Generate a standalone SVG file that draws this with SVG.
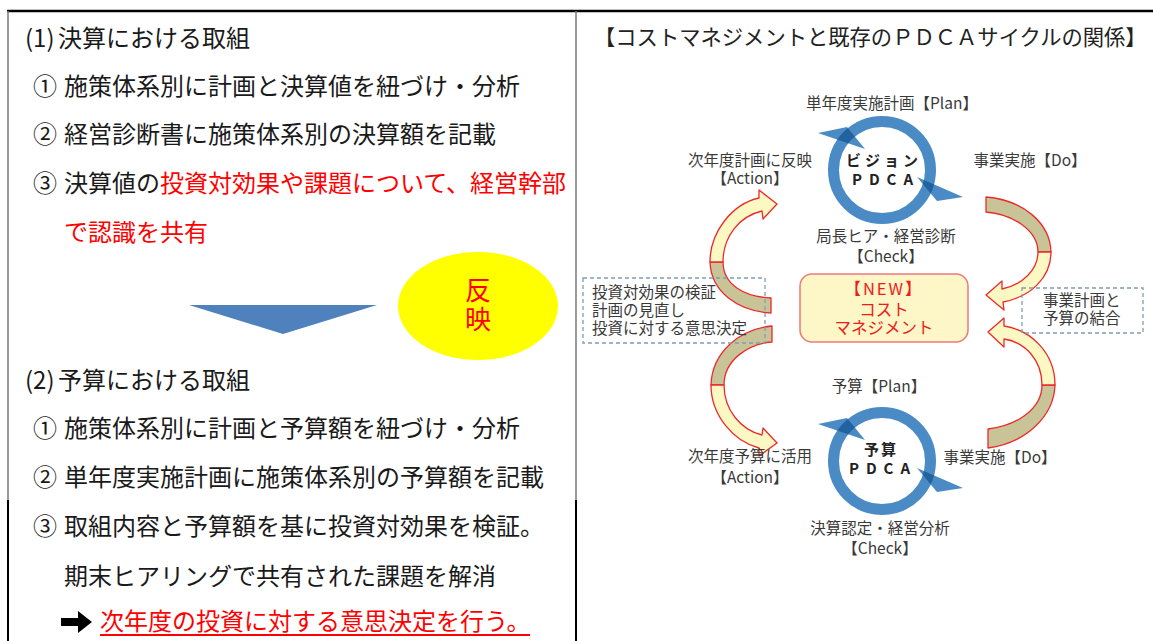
<svg xmlns="http://www.w3.org/2000/svg" xmlns:xlink="http://www.w3.org/1999/xlink" width="1153" height="641" viewBox="0 0 1153 641">
<style>
.lt{font-family:"Noto Sans CJK JP","Noto Sans",sans-serif;font-size:24px;fill:#1a1a1a}
.red{fill:#ff0000}
.lb{font-family:"Noto Sans CJK JP","Noto Sans",sans-serif;font-size:15.5px;fill:#3a3a3a;text-anchor:middle}
.bx{font-family:"Noto Sans CJK JP","Noto Sans",sans-serif;font-size:15.5px;fill:#3a3a3a}
.pd{font-family:"Noto Sans CJK JP","Noto Sans",sans-serif;font-size:15px;font-weight:bold;fill:#222;text-anchor:middle}
.nw{font-family:"Noto Sans CJK JP","Noto Sans",sans-serif;font-size:16.5px;fill:#ee1c1c;text-anchor:middle}
.front{fill:#fcf8c4;stroke:#ec2a2a;stroke-width:1.3;stroke-linejoin:round}
.back{fill:#c9c498;stroke:#ec2a2a;stroke-width:1.3;stroke-linejoin:round}
.dash{fill:none;stroke:#7f9db5;stroke-width:1.3;stroke-dasharray:4 3}
</style>
<defs>
<clipPath id="cUL"><polygon points="-64,-37 -35,-43 -17,-21"/></clipPath>
<clipPath id="cLR"><polygon points="35,7 81,27 55,31"/></clipPath>
<g id="ring">
<circle cx="0" cy="0" r="48.5" fill="none" stroke="#4a8bc5" stroke-width="11"/>
<polygon points="-64,-37 -35,-43 -17,-21" fill="#4a8bc5"/>
<polygon points="35,7 81,27 55,31" fill="#4a8bc5"/>
<circle cx="0" cy="0" r="48.5" fill="none" stroke="#22639f" stroke-width="11" clip-path="url(#cUL)"/>
<circle cx="0" cy="0" r="48.5" fill="none" stroke="#22639f" stroke-width="11" clip-path="url(#cLR)"/>
</g>
</defs>
<rect width="1153" height="641" fill="#ffffff"/>
<g id="frame">
<line x1="7" y1="11" x2="1153" y2="11" stroke="#000" stroke-width="2.5"/>
<line x1="8" y1="11" x2="8" y2="500" stroke="#7a7a7a" stroke-width="1.5"/>
<line x1="8" y1="500" x2="8" y2="641" stroke="#000" stroke-width="2"/>
<line x1="576" y1="11" x2="576" y2="500" stroke="#7a7a7a" stroke-width="1.5"/>
<line x1="576" y1="500" x2="576" y2="641" stroke="#000" stroke-width="2"/>
</g>
<g id="left-panel">
<text class="lt" x="25" y="47">(1)<tspan x="58">決算における取組</tspan></text>
<text class="lt" x="33" y="95">① <tspan x="64">施策体系別に計画と決算値を紐づけ・分析</tspan></text>
<text class="lt" x="33" y="143">② <tspan x="64">経営診断書に施策体系別の決算額を記載</tspan></text>
<text class="lt" x="33" y="192" font-size="23.6">③ <tspan x="64">決算値の</tspan><tspan class="red">投資対効果や課題について、経営幹部</tspan></text>
<text class="lt red" x="64" y="241">で認識を共有</text>
<polygon id="down-arrow" points="189,305 377,305 283,334" fill="#4f81bd"/>
<g id="hanei">
<ellipse cx="478" cy="306" rx="80" ry="54" fill="#ffff00"/>
<text x="478" y="300" font-family="Noto Sans CJK JP, sans-serif" font-size="26" fill="#ff0000" text-anchor="middle">反</text>
<text x="478" y="329" font-family="Noto Sans CJK JP, sans-serif" font-size="26" fill="#ff0000" text-anchor="middle">映</text>
</g>
<text class="lt" x="25" y="389">(2)<tspan x="58">予算における取組</tspan></text>
<text class="lt" x="33" y="437">① <tspan x="64">施策体系別に計画と予算額を紐づけ・分析</tspan></text>
<text class="lt" x="33" y="486">② <tspan x="64">単年度実施計画に施策体系別の予算額を記載</tspan></text>
<text class="lt" x="33" y="535">③ <tspan x="64">取組内容と予算額を基に投資対効果を検証。</tspan></text>
<text class="lt" x="64" y="585">期末ヒアリングで共有された課題を解消</text>
<polygon points="61,618 78,618 78,611 92,622 78,633 78,626 61,626" fill="#000"/>
<text class="lt red" x="100" y="630" font-size="23.4">次年度の投資に対する意思決定を行う。</text>
<line x1="100" y1="635" x2="530" y2="635" stroke="#ff0000" stroke-width="2"/>
</g>
<g id="right-panel">
<text x="594" y="45" font-family="Noto Sans CJK JP, sans-serif" font-size="21.3" fill="#222">【コストマネジメントと既存のＰＤＣＡサイクルの関係】</text>
<g id="connectors">
<path class="back" d="M710,262 C711,292 738,311 771,313 L771,298 C745,297 723,285 723,262 Z"/>
<path class="front" d="M710,262 C710,232 732,204 759,198 L759,190 L777,204 L763,219 L762,211 C740,216 723,236 723,262 Z"/>
<path class="back" d="M1051,252 C1050,222 1022,200 986,197 L986,212 C1012,214 1038,230 1038,252 Z"/>
<path class="front" d="M1051,252 C1051,278 1030,297 1003,302 L1004,310 L986,295 L1002,281 L1002,289 C1022,285 1038,270 1038,252 Z"/>
<path class="back" d="M711,385 C712,352 740,329 772,326 L772,342 C748,344 724,360 724,385 Z"/>
<path class="front" d="M711,385 C711,415 733,441 759,448 L759,456 L777,443 L763,428 L762,435 C741,430 724,410 724,385 Z"/>
<path class="back" d="M1055,385 C1054,416 1026,443 988,448 L988,429 C1015,426 1042,410 1042,385 Z"/>
<path class="front" d="M1055,385 C1055,352 1030,330 1004,326 L1004,318 L988,332 L1004,347 L1004,339 C1025,342 1042,360 1042,385 Z"/>
</g>
<g id="vision-pdca">
<use xlink:href="#ring" href="#ring" transform="translate(882,170)"/>
<text class="pd" x="884" y="166" letter-spacing="4">ビジョン</text>
<text class="pd" x="886" y="185" letter-spacing="7">PDCA</text>
</g>
<g id="plan-top"><text class="lb" x="892" y="109">単年度実施計画【Plan】</text></g>
<g id="action-top"><text class="lb" x="750" y="166">次年度計画に反映</text><text class="lb" x="750" y="184">【Action】</text></g>
<g id="do-top"><text class="lb" x="1030" y="166">事業実施【Do】</text></g>
<g id="check-top"><text class="lb" x="886" y="242">局長ヒア・経営診断</text><text class="lb" x="886" y="262">【Check】</text></g>
<g id="new-cost">
<rect x="800" y="274" width="168" height="68" rx="12" fill="#fdf6c6" stroke="#f07878" stroke-width="1.5"/>
<text class="nw" x="884" y="295" letter-spacing="2">【NEW】</text>
<text class="nw" x="884" y="316">コスト</text>
<text class="nw" x="884" y="334">マネジメント</text>
</g>
<g id="left-note">
<rect class="dash" x="583" y="278" width="182" height="65"/>
<text class="bx" x="592" y="298">投資対効果の検証</text>
<text class="bx" x="592" y="316">計画の見直し</text>
<text class="bx" x="592" y="334">投資に対する意思決定</text>
</g>
<g id="right-note">
<rect class="dash" x="1022" y="288" width="121" height="45"/>
<text class="bx" x="1043" y="306">事業計画と</text>
<text class="bx" x="1043" y="324">予算の結合</text>
</g>
<g id="plan-bottom"><text class="lb" x="879" y="392">予算【Plan】</text></g>
<g id="budget-pdca">
<use xlink:href="#ring" href="#ring" transform="translate(882,461)"/>
<text class="pd" x="881" y="455" letter-spacing="2">予算</text>
<text class="pd" x="883" y="474" letter-spacing="7">PDCA</text>
</g>
<g id="action-bottom"><text class="lb" x="750" y="462">次年度予算に活用</text><text class="lb" x="750" y="483">【Action】</text></g>
<g id="do-bottom"><text class="lb" x="1000" y="463">事業実施【Do】</text></g>
<g id="check-bottom"><text class="lb" x="880" y="534">決算認定・経営分析</text><text class="lb" x="880" y="554">【Check】</text></g>
</g>
</svg>
